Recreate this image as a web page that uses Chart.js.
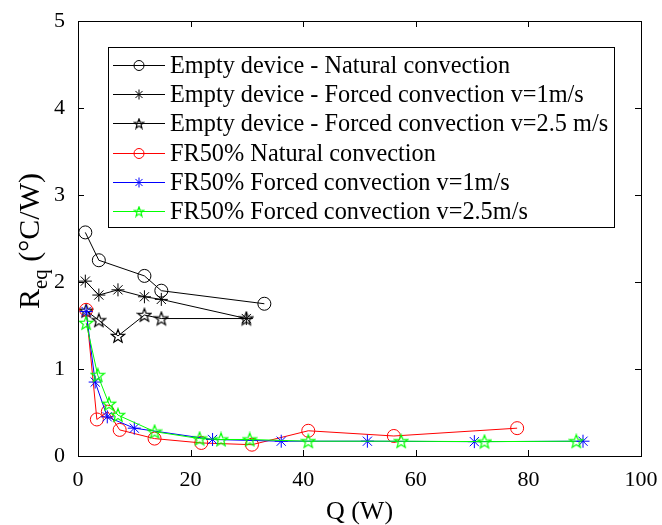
<!DOCTYPE html>
<html>
<head>
<meta charset="utf-8">
<script src="https://cdn.jsdelivr.net/npm/chart.js@4.4.0/dist/chart.umd.min.js"></script>
<style>
  html, body { margin: 0; padding: 0; background: #fff; }
  #wrap { width: 662px; height: 525px; }
</style>
</head>
<body>
<div id="wrap"><canvas id="reqChart"></canvas></div>
<script>
// ---- Data: equivalent thermal resistance vs. heat load ----
const emptyNaturalQ = [1.3, 3.7, 11.8, 14.8, 33.1];
const emptyNaturalR = [2.57, 2.25, 2.07, 1.90, 1.75];

const emptyForced1Q = [1.3, 3.7, 7.1, 11.8, 14.8, 29.9];
const emptyForced1R = [2.01, 1.85, 1.91, 1.83, 1.80, 1.58];

const emptyForced25Q = [1.45, 3.7, 7.1, 11.8, 14.8, 29.9];
const emptyForced25R = [1.67, 1.56, 1.38, 1.62, 1.58, 1.58];

const frNaturalQ = [1.45, 3.35, 5.3, 7.4, 13.6, 21.9, 30.9, 40.9, 56.1, 78.0];
const frNaturalR = [1.68, 0.42, 0.51, 0.30, 0.20, 0.15, 0.13, 0.29, 0.23, 0.32];

const frForced1Q = [1.45, 3.05, 5.2, 10.0, 23.9, 36.1, 51.4, 70.4, 89.7];
const frForced1R = [1.66, 0.85, 0.45, 0.32, 0.19, 0.17, 0.17, 0.165, 0.17];

const frForced25Q = [1.45, 3.5, 5.5, 7.1, 13.6, 21.6, 25.4, 30.5, 40.9, 57.4, 72.2, 88.5];
const frForced25R = [1.53, 0.93, 0.60, 0.47, 0.28, 0.20, 0.19, 0.19, 0.17, 0.17, 0.165, 0.17];

const seriesLabels = [
  "Empty device - Natural convection",
  "Empty device - Forced convection v=1m/s",
  "Empty device - Forced convection v=2.5 m/s",
  "FR50% Natural convection",
  "FR50% Forced convection v=1m/s",
  "FR50% Forced convection v=2.5m/s"
];

const xTicks = [0, 20, 40, 60, 80, 100];
const yTicks = [0, 1, 2, 3, 4, 5];

const SERIF = "'Liberation Serif', 'Times New Roman', serif";

// five-pointed star marker drawn into a small canvas
function pentagram(color, size) {
  const c = document.createElement("canvas");
  c.width = size; c.height = size;
  const g = c.getContext("2d");
  const cx = size / 2, cy = size / 2 + 0.5, ro = size / 2 - 1, ri = ro * 0.42;
  g.beginPath();
  for (let i = 0; i < 10; i++) {
    const r = i % 2 === 0 ? ro : ri;
    const a = -Math.PI / 2 + i * Math.PI / 5;
    const px = cx + r * Math.cos(a), py = cy + r * Math.sin(a);
    i === 0 ? g.moveTo(px, py) : g.lineTo(px, py);
  }
  g.closePath();
  g.strokeStyle = color;
  g.lineWidth = 1.2;
  g.stroke();
  return c;
}

function toPoints(xs, ys) {
  return xs.map((x, i) => ({ x: x, y: ys[i] }));
}

function series(label, xs, ys, color, style, radius, order) {
  return {
    label: label,
    data: toPoints(xs, ys),
    borderColor: color,
    backgroundColor: "transparent",
    borderWidth: 1,
    pointStyle: style,
    pointRadius: radius,
    pointBorderColor: color,
    pointBorderWidth: 1,
    pointBackgroundColor: "transparent",
    tension: 0,
    order: order
  };
}

const starBlack = pentagram("#000000", 16);
const starGreen = pentagram("#00ff00", 16);
const starBlackSmall = pentagram("#000000", 12);
const starGreenSmall = pentagram("#00ff00", 12);

const datasets = [
  series(seriesLabels[0], emptyNaturalQ, emptyNaturalR, "#000000", "circle", 6.5, 6),
  series(seriesLabels[1], emptyForced1Q, emptyForced1R, "#000000", "star", 6.5, 5),
  series(seriesLabels[2], emptyForced25Q, emptyForced25R, "#000000", starBlack, 7, 4),
  series(seriesLabels[3], frNaturalQ, frNaturalR, "#ff0000", "circle", 6.5, 3),
  series(seriesLabels[4], frForced1Q, frForced1R, "#0000ff", "star", 6.5, 2),
  series(seriesLabels[5], frForced25Q, frForced25R, "#00ff00", starGreen, 7, 1)
];

// legend marker for each entry
const legendMarkers = ["circle", "star", starBlackSmall, "circle", "star", starGreenSmall];

function legendMarker(ctx, style, color, x, y) {
  ctx.strokeStyle = color;
  ctx.lineWidth = 1;
  if (style === "circle") {
    ctx.beginPath();
    ctx.arc(x, y, 5, 0, Math.PI * 2);
    ctx.stroke();
  } else if (style === "star") {
    const r = 5;
    ctx.beginPath();
    for (let k = 0; k < 4; k++) {
      const ang = k * Math.PI / 4;
      ctx.moveTo(x - r * Math.cos(ang), y - r * Math.sin(ang));
      ctx.lineTo(x + r * Math.cos(ang), y + r * Math.sin(ang));
    }
    ctx.stroke();
  } else {
    ctx.drawImage(style, x - style.width / 2, y - style.height / 2);
  }
}

// box, inward ticks, axis titles and legend
const decorations = {
  id: "decorations",
  afterDraw(chart) {
    const { ctx, chartArea: a, scales } = chart;
    ctx.save();

    // axes box
    ctx.strokeStyle = "#000";
    ctx.lineWidth = 1;
    ctx.strokeRect(Math.round(a.left) + 0.5, Math.round(a.top) + 0.5,
                   Math.round(a.right - a.left), Math.round(a.bottom - a.top));

    // ticks pointing into the plot
    ctx.beginPath();
    xTicks.forEach(v => {
      const px = Math.round(scales.x.getPixelForValue(v)) + 0.5;
      ctx.moveTo(px, a.bottom); ctx.lineTo(px, a.bottom - 6);
      ctx.moveTo(px, a.top); ctx.lineTo(px, a.top + 6);
    });
    yTicks.forEach(v => {
      const py = Math.round(scales.y.getPixelForValue(v)) + 0.5;
      ctx.moveTo(a.left, py); ctx.lineTo(a.left + 6, py);
      ctx.moveTo(a.right, py); ctx.lineTo(a.right - 6, py);
    });
    ctx.stroke();

    // x title
    ctx.fillStyle = "#000";
    ctx.font = "26px " + SERIF;
    ctx.textAlign = "center";
    ctx.textBaseline = "alphabetic";
    ctx.fillText("Q (W)", (a.left + a.right) / 2, 519);

    // y title with subscript
    ctx.save();
    ctx.translate(39, 241);
    ctx.rotate(-Math.PI / 2);
    const big = "30px " + SERIF, small = "21px " + SERIF;
    ctx.font = big; const wR = ctx.measureText("R").width;
    const wUnit = ctx.measureText(" (°C/W)").width;
    ctx.font = small; const wSub = ctx.measureText("eq").width;
    const x0 = -(wR + wSub + wUnit) / 2;
    ctx.textAlign = "left";
    ctx.font = big; ctx.fillText("R", x0, 0);
    ctx.font = small; ctx.fillText("eq", x0 + wR, 8);
    ctx.font = big; ctx.fillText(" (°C/W)", x0 + wR + wSub, 0);
    ctx.restore();

    // legend
    const lx = 108, ly = 47, rowH = 29.2, firstRow = 65;
    ctx.font = "24.3px " + SERIF;
    let maxW = 0;
    seriesLabels.forEach(t => { maxW = Math.max(maxW, ctx.measureText(t).width); });
    const boxW = Math.round(170 - lx + maxW + 6);
    const boxH = 180;
    ctx.fillStyle = "#fff";
    ctx.fillRect(lx, ly, boxW, boxH);
    ctx.strokeStyle = "#000";
    ctx.strokeRect(lx + 0.5, ly + 0.5, boxW, boxH);

    datasets.forEach((ds, i) => {
      const cy = Math.round(firstRow + i * rowH) + 0.5;
      ctx.strokeStyle = ds.borderColor;
      ctx.lineWidth = 1;
      ctx.beginPath();
      ctx.moveTo(113, cy);
      ctx.lineTo(165, cy);
      ctx.stroke();
      legendMarker(ctx, legendMarkers[i], ds.borderColor, 139, cy);
      ctx.fillStyle = "#000";
      ctx.textAlign = "left";
      ctx.textBaseline = "middle";
      ctx.fillText(ds.label, 170, cy + 1);
    });

    ctx.restore();
  }
};

new Chart(document.getElementById("reqChart"), {
  type: "line",
  data: { datasets: datasets },
  plugins: [decorations],
  options: {
    responsive: true,
    maintainAspectRatio: false,
    animation: false,
    layout: { padding: { top: 21, right: 21, left: 0, bottom: 0 } },
    plugins: {
      legend: { display: false },
      tooltip: { enabled: false }
    },
    scales: {
      x: {
        type: "linear",
        min: 0, max: 100,
        afterBuildTicks: s => { s.ticks = xTicks.map(v => ({ value: v })); },
        afterFit: s => { s.height = 69; },
        grid: { display: false },
        border: { display: false },
        ticks: { color: "#000", font: { family: SERIF, size: 22 }, padding: 3, maxRotation: 0 }
      },
      y: {
        min: 0, max: 5,
        afterBuildTicks: s => { s.ticks = yTicks.map(v => ({ value: v })); },
        afterFit: s => { s.width = 78; },
        grid: { display: false },
        border: { display: false },
        ticks: { color: "#000", font: { family: SERIF, size: 22 }, padding: 5 }
      }
    }
  }
});
</script>
</body>
</html>
